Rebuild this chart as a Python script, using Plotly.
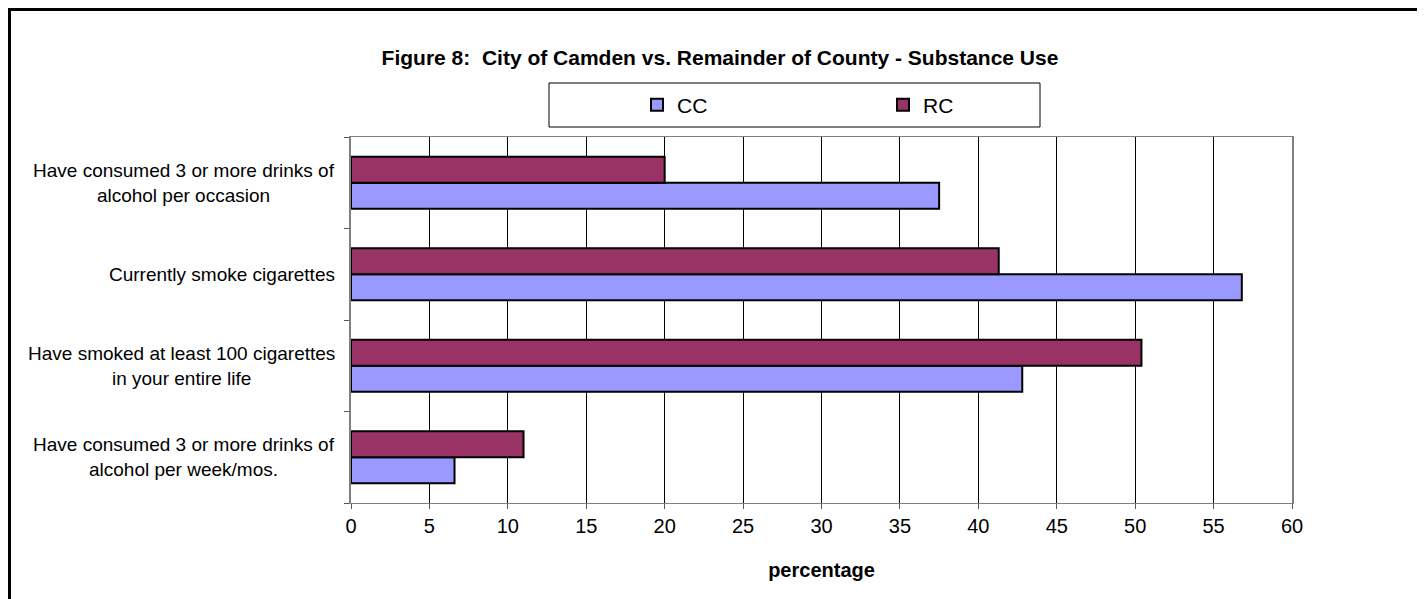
import plotly.graph_objects as go

# 類別由上到下
categories = [
    "Have consumed 3 or more drinks of<br>alcohol per occasion",
    "Currently smoke cigarettes",
    "Have smoked at least 100 cigarettes<br>in your entire life",
    "Have consumed 3 or more drinks of<br>alcohol per week/mos.",
]
cc_values = [37.5, 56.8, 42.8, 6.6]
rc_values = [20.0, 41.3, 50.4, 11.0]
x_ticks = [0, 5, 10, 15, 20, 25, 30, 35, 40, 45, 50, 55, 60]

FONT = "Liberation Sans, Arial, sans-serif"
W, H = 1417, 591
L, R, T, B = 343, 133, 129, 96
PW, PH = W - L - R, H - T - B


def px(x):
    return (x - L) / PW


def py(y):
    return (H - B - y) / PH


fig = go.Figure()
fig.add_trace(go.Bar(
    y=categories, x=cc_values, name="CC", orientation="h",
    marker=dict(color="#9999FF", line=dict(color="black", width=2)),
))
fig.add_trace(go.Bar(
    y=categories, x=rc_values, name="RC", orientation="h",
    marker=dict(color="#993366", line=dict(color="black", width=2)),
))

# 置中對齊的多行類別標籤
for cat in categories:
    fig.add_annotation(
        text=cat, xref="paper", yref="y", x=px(329), y=cat,
        xanchor="right", align="center", showarrow=False,
        font=dict(family=FONT, size=19, color="black"),
    )

# 外框
fig.add_shape(
    type="rect", xref="paper", yref="paper",
    x0=px(1.5), y0=py(H + 40), x1=px(W + 40), y1=py(1.5),
    line=dict(color="black", width=3), layer="below",
)
# 圖例框
fig.add_shape(
    type="rect", xref="paper", yref="paper",
    x0=px(541), y0=py(119), x1=px(1032), y1=py(75),
    line=dict(color="black", width=1), layer="below",
)

fig.update_layout(
    width=W, height=H,
    margin=dict(l=L, r=R, t=T, b=B),
    paper_bgcolor="white", plot_bgcolor="white",
    barmode="group", bargap=0.43, bargroupgap=0,
    title=dict(
        text="<b>Figure 8:  City of Camden vs. Remainder of County - Substance Use</b>",
        font=dict(family=FONT, size=21, color="black"),
        x=712 / W, xanchor="center", y=1 - 50 / H, yanchor="middle",
    ),
    legend=dict(
        orientation="h", x=px(629), xanchor="left",
        y=py(97), yanchor="middle",
        borderwidth=0, bgcolor="rgba(0,0,0,0)",
        font=dict(family=FONT, size=21, color="black"),
        entrywidth=201, itemwidth=30,
    ),
    font=dict(family=FONT, color="black"),
)

fig.update_xaxes(
    range=[0, 60], tickvals=x_ticks,
    showgrid=True, gridcolor="black", gridwidth=1,
    ticks="outside", ticklen=5, tickcolor="#555555",
    showline=True, linecolor="#808080", linewidth=1, mirror=True,
    tickfont=dict(family=FONT, size=20, color="black"),
    title=dict(text="<b>percentage</b>", font=dict(family=FONT, size=20, color="black"), standoff=26),
    zeroline=False,
)
fig.update_yaxes(
    categoryorder="array", categoryarray=categories[::-1],
    showticklabels=False, showgrid=False,
    ticks="outside", ticklen=5, tickcolor="#555555", tickson="boundaries",
    showline=True, linecolor="#808080", linewidth=2, mirror=True,
)

fig.write_html("out.html")
